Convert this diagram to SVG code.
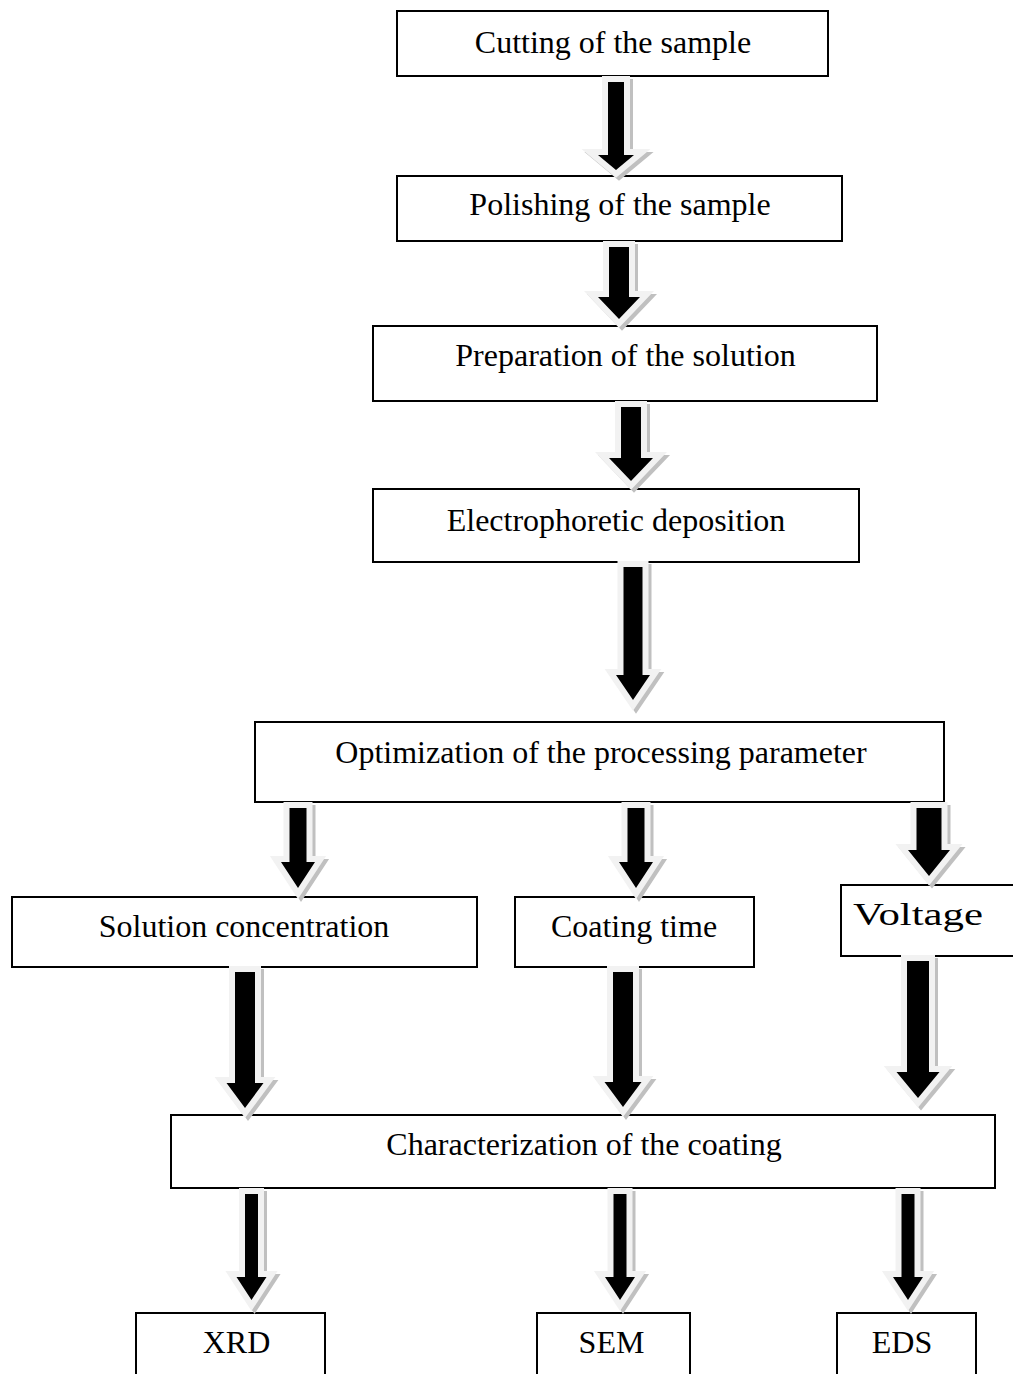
<svg xmlns="http://www.w3.org/2000/svg" width="1013" height="1374" viewBox="0 0 1013 1374">
<style>
.box{fill:#fff;stroke:#000;stroke-width:2}
.t{font-family:"Liberation Serif","Times New Roman",serif;font-size:32px;fill:#000;text-anchor:middle}
.sh{fill:#c0c0c0;stroke:#c0c0c0;stroke-width:12;stroke-linejoin:miter;stroke-miterlimit:10}
.hl{fill:#f2f2f2;stroke:#f2f2f2;stroke-width:12;stroke-linejoin:miter;stroke-miterlimit:10}
.bk{fill:#000}
</style>
<rect width="1013" height="1374" fill="#fff"/>
<g id="nodes">
<g id="n1"><rect class="box" x="397" y="11" width="431" height="65"/><text class="t" x="613" y="53">Cutting of the sample</text></g>
<g id="n2"><rect class="box" x="397" y="176" width="445" height="65"/><text class="t" x="620" y="215">Polishing of the sample</text></g>
<g id="n3"><rect class="box" x="373" y="326" width="504" height="75"/><text class="t" x="625.5" y="366">Preparation of the solution</text></g>
<g id="n4"><rect class="box" x="373" y="489" width="486" height="73"/><text class="t" x="616" y="531">Electrophoretic deposition</text></g>
<g id="n5"><rect class="box" x="255" y="722" width="689" height="80"/><text class="t" x="601" y="763">Optimization of the processing parameter</text></g>
<g id="n6"><rect class="box" x="12" y="897" width="465" height="70"/><text class="t" x="244" y="937">Solution concentration</text></g>
<g id="n7"><rect class="box" x="515" y="897" width="239" height="70"/><text class="t" x="634" y="937">Coating time</text></g>
<g id="n8"><rect class="box" x="841" y="885" width="190" height="71"/><text class="t" x="918" y="925" textLength="130" lengthAdjust="spacingAndGlyphs">Voltage</text></g>
<g id="n9"><rect class="box" x="171" y="1115" width="824" height="73"/><text class="t" x="584" y="1155">Characterization of the coating</text></g>
<g id="n10"><rect class="box" x="136" y="1313" width="189" height="90"/><text class="t" x="236.5" y="1353">XRD</text></g>
<g id="n11"><rect class="box" x="537" y="1313" width="153" height="90"/><text class="t" x="611.5" y="1353">SEM</text></g>
<g id="n12"><rect class="box" x="837" y="1313" width="139" height="90"/><text class="t" x="902" y="1353">EDS</text></g>
</g>
<g id="connectors">
<g id="a1"><path class="sh" transform="translate(3,3)" d="M608,82 H624 V155 H634 L616,170 L598,155 H608 Z"/><path class="hl" d="M608,82 H624 V155 H634 L616,170 L598,155 H608 Z"/><path class="bk" d="M608,82 H624 V155 H634 L616,170 L598,155 H608 Z"/></g>
<g id="a2"><path class="sh" transform="translate(3,3)" d="M609,247 H629 V297 H640 L619,319 L598,297 H609 Z"/><path class="hl" d="M609,247 H629 V297 H640 L619,319 L598,297 H609 Z"/><path class="bk" d="M609,247 H629 V297 H640 L619,319 L598,297 H609 Z"/></g>
<g id="a3"><path class="sh" transform="translate(3,3)" d="M621,407 H641 V458 H653 L631,481 L609,458 H621 Z"/><path class="hl" d="M621,407 H641 V458 H653 L631,481 L609,458 H621 Z"/><path class="bk" d="M621,407 H641 V458 H653 L631,481 L609,458 H621 Z"/></g>
<g id="a4"><path class="sh" transform="translate(3,3)" d="M623.5,567 H642.5 V675 H650 L633,700 L616,675 H623.5 Z"/><path class="hl" d="M623.5,567 H642.5 V675 H650 L633,700 L616,675 H623.5 Z"/><path class="bk" d="M623.5,567 H642.5 V675 H650 L633,700 L616,675 H623.5 Z"/></g>
<g id="a5"><path class="sh" transform="translate(3,3)" d="M289.5,808 H306.5 V862 H315 L298,888 L281,862 H289.5 Z"/><path class="hl" d="M289.5,808 H306.5 V862 H315 L298,888 L281,862 H289.5 Z"/><path class="bk" d="M289.5,808 H306.5 V862 H315 L298,888 L281,862 H289.5 Z"/></g>
<g id="a6"><path class="sh" transform="translate(3,3)" d="M627.5,808 H644.5 V862 H653 L636,888 L619,862 H627.5 Z"/><path class="hl" d="M627.5,808 H644.5 V862 H653 L636,888 L619,862 H627.5 Z"/><path class="bk" d="M627.5,808 H644.5 V862 H653 L636,888 L619,862 H627.5 Z"/></g>
<g id="a7"><path class="sh" transform="translate(3,3)" d="M916.5,808 H941.5 V850 H950 L929,876 L908,850 H916.5 Z"/><path class="hl" d="M916.5,808 H941.5 V850 H950 L929,876 L908,850 H916.5 Z"/><path class="bk" d="M916.5,808 H941.5 V850 H950 L929,876 L908,850 H916.5 Z"/></g>
<g id="a8"><path class="sh" transform="translate(3,3)" d="M235,972 H255 V1083 H263.5 L245,1108 L226.5,1083 H235 Z"/><path class="hl" d="M235,972 H255 V1083 H263.5 L245,1108 L226.5,1083 H235 Z"/><path class="bk" d="M235,972 H255 V1083 H263.5 L245,1108 L226.5,1083 H235 Z"/></g>
<g id="a9"><path class="sh" transform="translate(3,3)" d="M613,972 H633 V1082 H641.5 L623,1107 L604.5,1082 H613 Z"/><path class="hl" d="M613,972 H633 V1082 H641.5 L623,1107 L604.5,1082 H613 Z"/><path class="bk" d="M613,972 H633 V1082 H641.5 L623,1107 L604.5,1082 H613 Z"/></g>
<g id="a10"><path class="sh" transform="translate(3,3)" d="M907,961 H929 V1072 H939.5 L918,1098 L896.5,1072 H907 Z"/><path class="hl" d="M907,961 H929 V1072 H939.5 L918,1098 L896.5,1072 H907 Z"/><path class="bk" d="M907,961 H929 V1072 H939.5 L918,1098 L896.5,1072 H907 Z"/></g>
<g id="a11"><path class="sh" transform="translate(3,3)" d="M245,1194 H258 V1277 H266.5 L251.5,1300 L236.5,1277 H245 Z"/><path class="hl" d="M245,1194 H258 V1277 H266.5 L251.5,1300 L236.5,1277 H245 Z"/><path class="bk" d="M245,1194 H258 V1277 H266.5 L251.5,1300 L236.5,1277 H245 Z"/></g>
<g id="a12"><path class="sh" transform="translate(3,3)" d="M613.5,1194 H626.5 V1277 H635 L620,1300 L605,1277 H613.5 Z"/><path class="hl" d="M613.5,1194 H626.5 V1277 H635 L620,1300 L605,1277 H613.5 Z"/><path class="bk" d="M613.5,1194 H626.5 V1277 H635 L620,1300 L605,1277 H613.5 Z"/></g>
<g id="a13"><path class="sh" transform="translate(3,3)" d="M901.5,1194 H914.5 V1277 H923 L908,1300 L893,1277 H901.5 Z"/><path class="hl" d="M901.5,1194 H914.5 V1277 H923 L908,1300 L893,1277 H901.5 Z"/><path class="bk" d="M901.5,1194 H914.5 V1277 H923 L908,1300 L893,1277 H901.5 Z"/></g>
</g>
</svg>
